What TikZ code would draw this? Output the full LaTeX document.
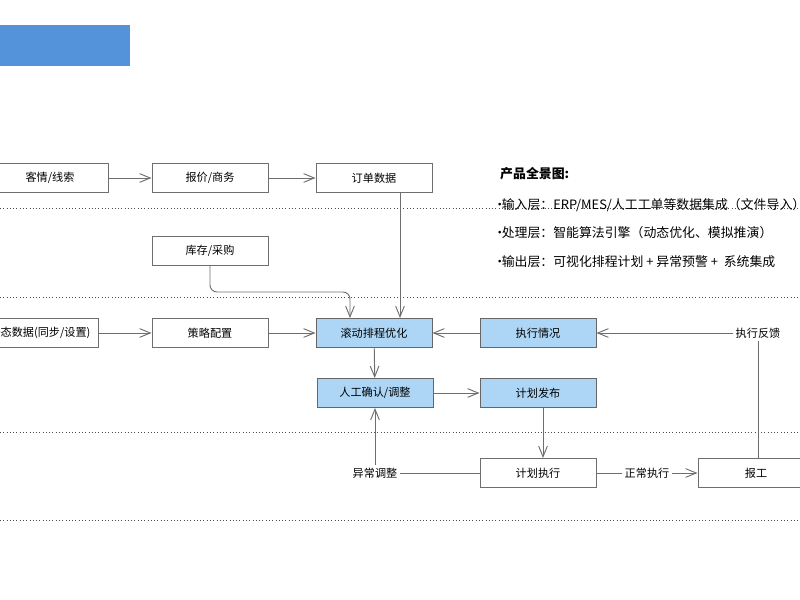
\documentclass[tikz,border=0pt]{standalone}
\usepackage{fontspec}
\setmainfont{Noto Sans CJK SC}
\usepackage{tikz}
\usetikzlibrary{arrows.meta, positioning, calc}
\definecolor{headblue}{RGB}{84,146,218}
\definecolor{boxblue}{RGB}{173,214,246}
\definecolor{linegray}{RGB}{110,110,110}

\begin{document}
\begin{tikzpicture}[x=0.03cm, y=-0.03cm,
    box/.style={rectangle, draw=#1, line width=0.8pt, fill=white,
                minimum width=3.48cm, minimum height=0.87cm, align=center,
                font=\fontsize{9.5}{11}\selectfont},
    box/.default={linegray},
    hot/.style={box, fill=boxblue, draw=black!60},
    lbl/.style={font=\fontsize{9.5}{11}\selectfont, fill=white, inner sep=2pt},
    flow/.style={draw=linegray, line width=0.8pt, -{Straight Barb[length=3.2mm, width=2.6mm]}},
    sep/.style={draw=black!70, line width=0.8pt, dotted},
    info/.style={anchor=west, inner sep=0pt, font=\fontsize{11}{13}\selectfont}
]
    \useasboundingbox (0,0) rectangle (800,600);
    \begin{scope}
    \clip (0,0) rectangle (800,600);
    % Header bar
    \fill[headblue] (0,25) rectangle (130,66);

    % Layer separators
    \foreach \yy in {208,297,432,520}
        \draw[sep] (0,\yy) -- (800,\yy);

    % Boxes
    \node[box] (lead) at (50,178) {客情/线索};
    \node[box] (quote) at (210,178) {报价/商务};
    \node[box] (order) at (374,178) {订单数据};
    \node[box] (stock) at (210,251) {库存/采购};
    \node[box] (static) at (40,333) {静态数据(同步/设置)};
    \node[box] (policy) at (210,333) {策略配置};
    \node[hot] (roll) at (374,333) {滚动排程优化};
    \node[hot] (status) at (538,333) {执行情况};
    \node[hot] (confirm) at (375,393) {人工确认/调整};
    \node[hot] (publish) at (538,393) {计划发布};
    \node[box] (run) at (538,473) {计划执行};
    \node[box] (report) at (756,473) {报工};

    % Labels on connectors
    \node[lbl] (feedback) at (758,333) {执行反馈};
    \node[lbl] (abnormal) at (375,473) {异常调整};
    \node[lbl] (normal) at (647,473) {正常执行};

    % Product overview
    \node[info, font=\fontsize{11}{13}\selectfont\bfseries] (title) at (500,174) {产品全景图:};
    \node[info] (in) at (497,205) {\hspace{-0.3em}•\hspace{-0.35em}输入层：ERP/MES/人工工单等数据集成（文件导入）};
    \node[info] (proc) at (497,233) {\hspace{-0.3em}•\hspace{-0.35em}处理层：智能算法引擎（动态优化、模拟推演）};
    \node[info] (out) at (497,262) {\hspace{-0.3em}•\hspace{-0.35em}输出层：可视化排程计划 + 异常预警 +~ 系统集成};

    % Connectors
    \draw[flow] (lead) -- (quote);
    \draw[flow] (quote) -- (order);
    \draw[flow] (static) -- (policy);
    \draw[flow] (policy) -- (roll);
    \draw[flow] (order.south -| 400,0) -- (roll.north -| 400,0);
    \draw[flow, rounded corners=6pt] (stock.south) -- (210,292) -- (350,292) -- (roll.north -| 350,0);
    \draw[flow] (status) -- (roll);
    \draw[flow] (roll) -- (confirm);
    \draw[flow] (confirm) -- (publish);
    \draw[flow] (publish.south -| 543,0) -- (run.north -| 543,0);
    \draw[flow] (run) -- (normal) -- (report);
    \draw[draw=linegray, line width=0.8pt] (run) -- (abnormal);
    \draw[flow] (abnormal) -- (confirm);
    \draw[draw=linegray, line width=0.8pt] (report.north -| feedback) -- (feedback);
    \draw[flow] (feedback) -- (status);
    \end{scope}
\end{tikzpicture}
\end{document}
